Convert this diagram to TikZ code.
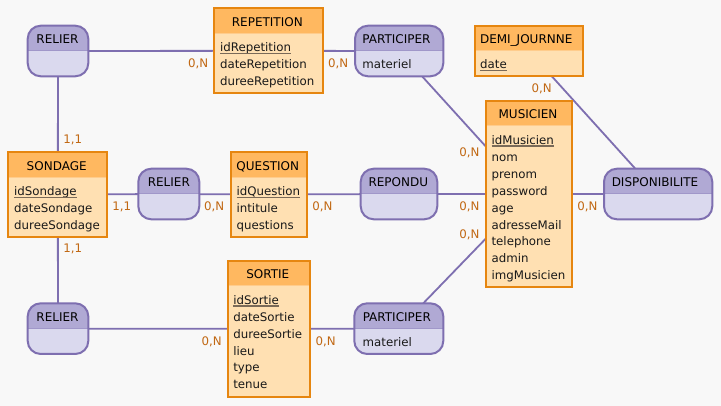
\documentclass[tikz,border=0pt]{standalone}
\usepackage{fontspec}
\setmainfont{DejaVu Sans}
\usetikzlibrary{backgrounds}
\definecolor{bgc}{HTML}{F8F8F8}
\definecolor{entstroke}{RGB}{230,134,16}
\definecolor{enthead}{RGB}{255,184,96}
\definecolor{entbody}{RGB}{255,224,178}
\definecolor{entsepc}{RGB}{255,204,140}
\definecolor{astroke}{RGB}{126,111,176}
\definecolor{ahead}{RGB}{176,169,212}
\definecolor{abody}{RGB}{218,217,238}
\definecolor{asepc}{RGB}{160,151,201}
\definecolor{cardc}{RGB}{193,104,19}
\definecolor{ulc}{RGB}{122,106,88}
\tikzset{
  every node/.style={inner sep=0pt, outer sep=0pt},
  entframe/.style={rectangle, draw=entstroke, line width=2.2pt, fill=entbody},
  entheadfill/.style={fill=enthead},
  entsep/.style={draw=entsepc, line width=1pt},
  abox/.style={rectangle, fill=abody, rounded corners=13pt},
  aheadfill/.style={fill=ahead},
  asep/.style={draw=asepc, line width=1pt},
  aframe/.style={draw=astroke, line width=2pt},
  ttl/.style={font=\fontsize{12}{14}\selectfont, text=black},
  attr/.style={font=\fontsize{11.8}{14}\selectfont, text=black!90},
  card/.style={font=\fontsize{11.8}{14}\selectfont, text=cardc, anchor=base west},
  ul/.style={draw=ulc, line width=1.3pt},
  link/.style={draw=astroke, line width=1.8pt},
}
% entity: name, x1, y1, x2, y2, title x, title
\newcommand\entity[7]{%
  \node[entframe, minimum width={(#4-#2)*1pt}, minimum height={(#5-#3)*1pt}] (#1) at ({(#2+#4)/2},{(#3+#5)/2}) {};
  \fill[entheadfill] (#2+1.1,#3+1.1) rectangle (#4-1.1,#3+25.3);
  \draw[entsep] (#2+1.1,#3+25.3) -- (#4-1.1,#3+25.3);
  \node[ttl, anchor=base] (#1-t) at (#6,{#3+12.65+5.2}) {#7};
}
% association: name, x1, y1, x2, y2, title x, title
\newcommand\assoc[7]{%
  \node[abox, minimum width={(#4-#2)*1pt}, minimum height={(#5-#3)*1pt}] (#1) at ({(#2+#4)/2},{(#3+#5)/2}) {};
  \begin{scope}
    \clip[rounded corners=13pt] (#1.north west) rectangle (#1.south east);
    \fill[aheadfill] (#1.north west) rectangle (#1.east);
  \end{scope}
  \draw[asep] (#1.west) -- (#1.east);
  \draw[aframe, rounded corners=13pt] (#1.north west) rectangle (#1.south east);
  \node[ttl, anchor=base] (#1-t) at (#6,{#3+12.65+5.2}) {#7};
}
% attributes: prefix, x, first baseline, list
\newcommand\attrlist[4]{%
  \foreach \a [count=\i] in {#4} {
    \node[attr, anchor=base west] (#1-\i) at (#2,{#3+(\i-1)*16.95}) {\a};
  }
}
\newcommand\ulattr[1]{%
  \draw[ul] ([yshift=-1.7pt]#1.base west) -- ([yshift=-1.7pt]#1.base east);
}
\begin{document}
\begin{tikzpicture}[x=1pt, y=-1pt]
\useasboundingbox (0,0) rectangle (721,406);
\begin{scope}[on background layer]
  \fill[bgc] (0,0) rectangle (721,406);
\end{scope}

% entities
\entity{rep}{214.3}{8.3}{323.3}{93.3}{267.3}{REPETITION}
\attrlist{rep}{220.1}{51.9}{idRepetition,dateRepetition,dureeRepetition}
\ulattr{rep-1}

\entity{demi}{474.7}{25.7}{583.3}{76.3}{526.2}{DEMI\_JOURNNE}
\attrlist{demi}{480.2}{69.0}{date}
\ulattr{demi-1}

\entity{mus}{485.7}{100.7}{572.3}{287.3}{528}{MUSICIEN}
\attrlist{mus}{491.6}{144.3}{idMusicien,nom,prenom,password,age,adresseMail,telephone,admin,imgMusicien}
\ulattr{mus-1}

\entity{son}{8.3}{152.3}{107.3}{236.7}{56.7}{SONDAGE}
\attrlist{son}{14.2}{195.6}{idSondage,dateSondage,dureeSondage}
\ulattr{son-1}

\entity{que}{230.7}{152.3}{306.7}{236.7}{267.8}{QUESTION}
\attrlist{que}{236.6}{195.6}{idQuestion,intitule,questions}
\ulattr{que-1}

\entity{sor}{227.7}{260.7}{310.3}{397}{267.8}{SORTIE}
\attrlist{sor}{233.3}{304.2}{idSortie,dateSortie,dureeSortie,lieu,type,tenue}
\ulattr{sor-1}

% associations
\assoc{rel1}{27.7}{25.7}{88.3}{76.3}{57.5}{RELIER}
\assoc{par1}{355}{25.7}{443.3}{76.3}{396.5}{PARTICIPER}
\node[attr, anchor=base west] (par1-1) at (362.3,68.4) {materiel};
\assoc{rel2}{138.3}{168.7}{199.3}{219.3}{168.8}{RELIER}
\assoc{repo}{360.7}{168.7}{437.3}{219.3}{398.3}{REPONDU}
\assoc{dispo}{604}{168.7}{712.3}{219.3}{655}{DISPONIBILITE}
\assoc{rel3}{27.7}{303.3}{88.3}{354}{57.5}{RELIER}
\assoc{par2}{354.3}{303.3}{443.3}{354}{396.8}{PARTICIPER}
\node[attr, anchor=base west] (par2-1) at (362.7,346.7) {materiel};

% connectors
\begin{scope}[on background layer]
  \draw[link] (rel1) -- (rep);
  \draw[link] (rep) -- (par1);
  \draw[link] (par1) -- (mus);
  \draw[link] (demi) -- (dispo);
  \draw[link] (rel1) -- (son);
  \draw[link] (son) -- (rel2);
  \draw[link] (rel2) -- (que);
  \draw[link] (que) -- (repo);
  \draw[link] (repo) -- (mus);
  \draw[link] (mus) -- (dispo);
  \draw[link] (mus) -- (par2);
  \draw[link] (son) -- (rel3);
  \draw[link] (rel3) -- (sor);
  \draw[link] (sor) -- (par2);
\end{scope}

% cardinalities
\node[card] (c1) at (188,67.7) {0,N};
\node[card] (c2) at (328,67.5) {0,N};
\node[card] (c3) at (459.3,156.7) {0,N};
\node[card] (c4) at (531.7,92.4) {0,N};
\node[card] (c5) at (459.3,211) {0,N};
\node[card] (c6) at (312.3,211) {0,N};
\node[card] (c7) at (204,211) {0,N};
\node[card] (c8) at (112.3,211) {1,1};
\node[card] (c9) at (63.3,143.3) {1,1};
\node[card] (c10) at (63.3,252.7) {1,1};
\node[card] (c11) at (577.3,211) {0,N};
\node[card] (c12) at (459.3,238.4) {0,N};
\node[card] (c13) at (201.7,345.4) {0,N};
\node[card] (c14) at (315.7,345.4) {0,N};
\end{tikzpicture}
\end{document}
